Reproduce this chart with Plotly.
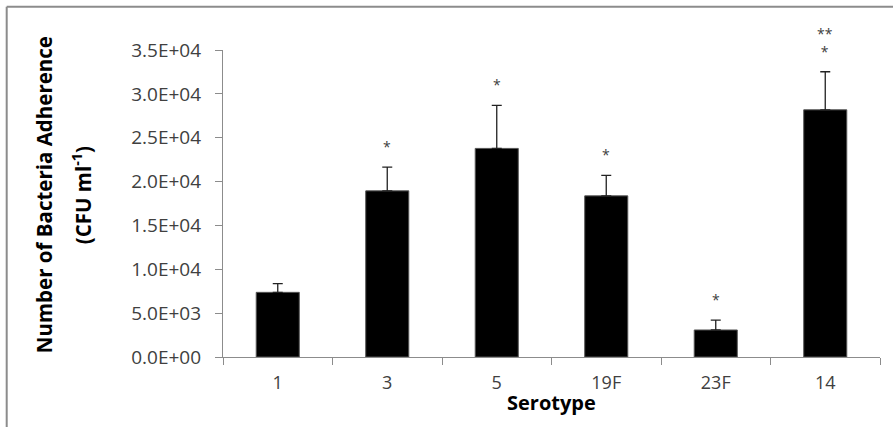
import plotly.graph_objects as go

categories = ["1", "3", "5", "19F", "23F", "14"]
means = [7370, 18940, 23780, 18370, 3080, 28180]
errors = [1000, 2700, 4910, 2330, 1120, 4340]
significance = ["", "*", "*", "*", "*", "**<br>*"]
y_tickvals = [0, 5000, 10000, 15000, 20000, 25000, 30000, 35000]
y_ticktext = ["0.0E+00", "5.0E+03", "1.0E+04", "1.5E+04", "2.0E+04", "2.5E+04", "3.0E+04", "3.5E+04"]

FONT = "Open Sans"
AXIS_GRAY = "#8c8c8c"

fig = go.Figure()
fig.add_trace(go.Bar(
    x=categories, y=means,
    marker=dict(color="black", line=dict(color="#555555", width=1)),
    error_y=dict(type="data", array=errors, symmetric=False, arrayminus=[0]*len(errors),
                 color="#222222", thickness=1.3, width=5),
    showlegend=False,
))

annotations = []
for i, (m, e, s) in enumerate(zip(means, errors, significance)):
    if s:
        annotations.append(dict(x=i, y=m + e, xref="x", yref="y", text=s, showarrow=False,
                                yanchor="bottom", yshift=9,
                                font=dict(family=FONT, size=14, color="#404040")))

annotations += [
    dict(x=-0.272, y=0.528, xref="paper", yref="paper", text="<b>Number of Bacteria Adherence</b>",
         textangle=-90, showarrow=False, xanchor="center", yanchor="middle",
         font=dict(family=FONT, size=20.5, color="black")),
    dict(x=-0.214, y=0.528, xref="paper", yref="paper", text="<b>(CFU ml<sup>-1</sup>)</b>",
         textangle=-90, showarrow=False, xanchor="center", yanchor="middle",
         font=dict(family=FONT, size=20.5, color="black")),
    dict(x=0.5, y=-0.148, xref="paper", yref="paper", text="<b>Serotype</b>",
         showarrow=False, xanchor="center", yanchor="middle",
         font=dict(family=FONT, size=20, color="black")),
]

fig.update_layout(
    width=893, height=427,
    margin=dict(l=223, r=13, t=50, b=70),
    paper_bgcolor="white", plot_bgcolor="white",
    bargap=0.607,
    annotations=annotations,
    xaxis=dict(
        type="category", categoryorder="array", categoryarray=categories,
        range=[-0.5, len(categories) - 0.5],
        showline=True, linecolor=AXIS_GRAY, linewidth=1.3,
        ticks="outside", tickson="boundaries", ticklen=7, tickcolor=AXIS_GRAY,
        tickfont=dict(family=FONT, size=18, color="#404040"),
        ticklabelstandoff=9,
        showgrid=False,
    ),
    yaxis=dict(
        range=[0, 35000], tickvals=y_tickvals, ticktext=y_ticktext,
        showline=True, linecolor=AXIS_GRAY, linewidth=1.3,
        ticks="outside", ticklen=7, tickcolor=AXIS_GRAY,
        tickfont=dict(family=FONT, size=19, color="#404040"),
        ticklabelstandoff=10,
        showgrid=False, zeroline=False,
    ),
    shapes=[
        dict(type="line", xref="paper", yref="paper", x0=(6.7 - 223) / 657, x1=(6.7 - 223) / 657,
             y0=1 + (50 - 6.7) / 307, y1=-0.25, layer="above", line=dict(color="#8c8c8c", width=2)),
        dict(type="line", xref="paper", yref="paper", x0=(6.7 - 223) / 657, x1=(893 - 223) / 657,
             y0=1 + (50 - 6.7) / 307, y1=1 + (50 - 6.7) / 307, layer="above",
             line=dict(color="#8c8c8c", width=2)),
    ],
)

fig.write_html("out.html", config={"displayModeBar": False},
               post_script="document.body.style.margin='0px';")
